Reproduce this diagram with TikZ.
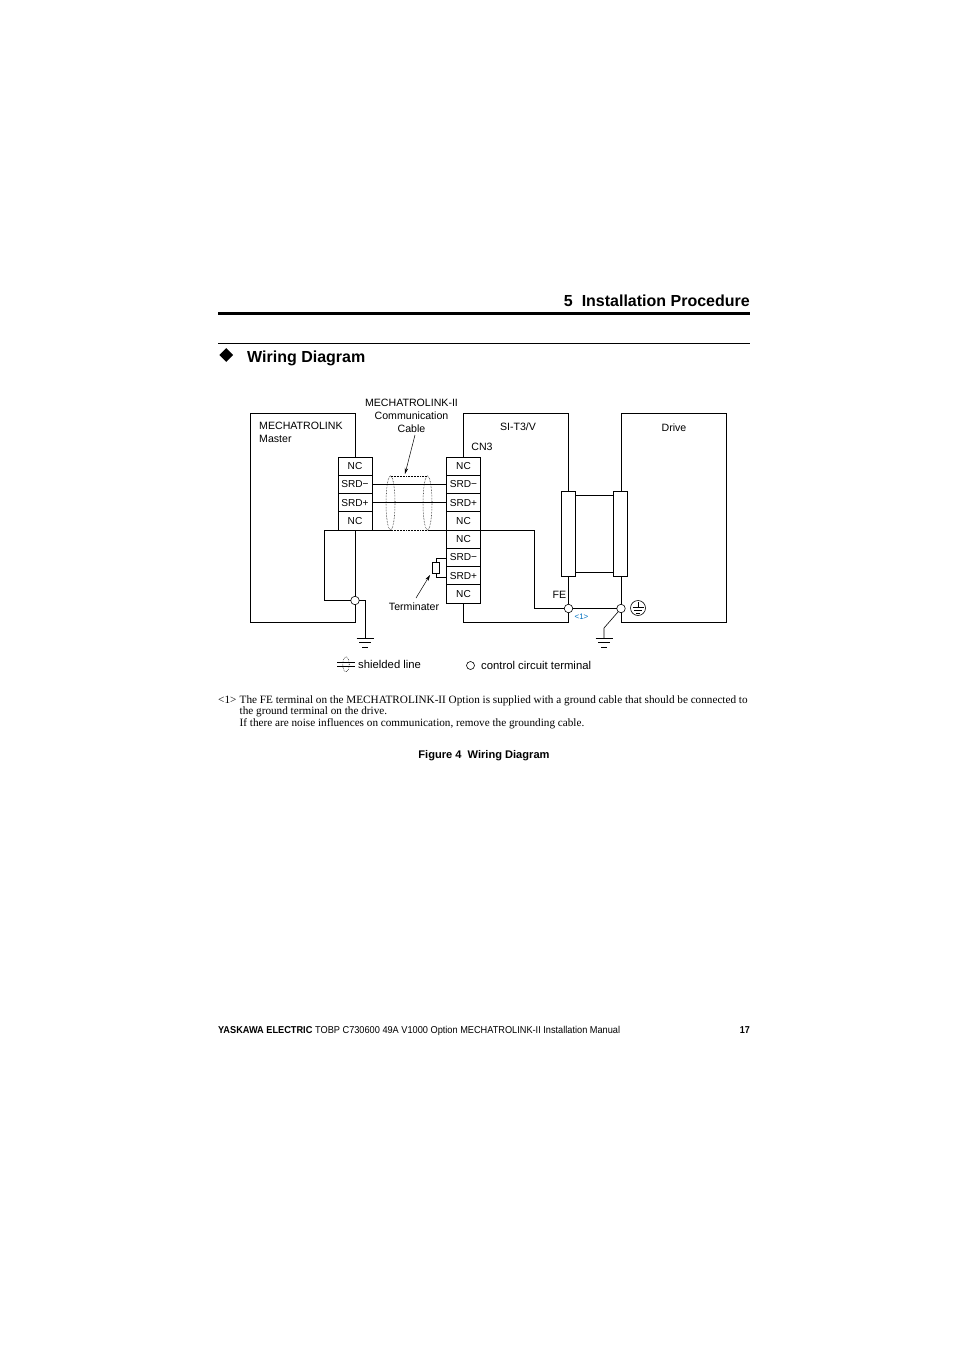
\documentclass[tikz,border=0pt]{standalone}
\usepackage{fontspec}
\setmainfont{Liberation Sans}
\newfontfamily\serifnote{Liberation Serif}
\usetikzlibrary{positioning, arrows.meta, shapes.geometric}
\definecolor{noteblue}{RGB}{0,112,192}
\newcommand{\gndbars}[1]{
    \draw[wire] (#1) ++(-8.5,0) -- ++(17,0);
    \draw[wire] (#1) ++(-6,4.5) -- ++(12,0);
    \draw[wire] (#1) ++(-3,9) -- ++(6,0);
}
\tikzset{
    wire/.style={line width=0.75pt},
    term/.style={draw, line width=0.75pt, minimum width=34pt, minimum height=18.25pt, inner sep=0pt, outer sep=0pt, fill=white, font=\fontsize{10.1}{11}\selectfont},
    joint/.style={draw, circle, line width=0.6pt, minimum size=8.5pt, inner sep=0pt, outer sep=0pt, fill=white},
    plug/.style={draw, line width=0.75pt, minimum width=13.5pt, minimum height=85pt, inner sep=0pt, outer sep=0pt, fill=white},
    label/.style={inner sep=0pt, font=\fontsize{10.6}{13}\selectfont},
    legend/.style={inner sep=0pt, font=\fontsize{11.3}{13}\selectfont},
    shield/.style={densely dotted, line width=0.55pt},
    head/.style={inner sep=0pt, font=\bfseries\fontsize{16}{18}\selectfont},
    note/.style={inner sep=0pt, anchor=base west, font=\serifnote\fontsize{11.2}{12}\selectfont},
    foot/.style={inner sep=0pt, anchor=base west},
    pointer/.style={-{Stealth[length=6pt,width=3.5pt]}, line width=0.5pt}
}
\begin{document}
\begin{tikzpicture}[x=1pt,y=-1pt,node distance=0pt]
    \useasboundingbox (0,0) rectangle (954,1351);
    \fill[white] (0,0) rectangle (954,1351);

    % page heading
    \node[head, anchor=base east] (title) at (750,306) {5\hspace{9pt}Installation Procedure};
    \coordinate (ruleA) at (218,313);
    \coordinate (ruleB) at (750,313);
    \draw[line width=3pt] (ruleA) -- (ruleB);
    \coordinate (ruleC) at (218,343.5);
    \coordinate (ruleD) at (750,343.5);
    \draw[line width=0.8pt] (ruleC) -- (ruleD);
    \node[diamond, fill=black, inner sep=0pt, minimum size=14pt] (bullet) at (226.3,355) {};
    \node[head, anchor=base west] (section) at (247,362) {Wiring Diagram};

    % coordinates of the housings
    \coordinate (mTL) at (250,413);
    \coordinate (mTR) at (355,413);
    \coordinate (mBL) at (250,622);
    \coordinate (mBR) at (355,622);
    \coordinate (sTL) at (463,413);
    \coordinate (sTR) at (568.5,413);
    \coordinate (sBL) at (463,622);
    \coordinate (sBR) at (568.5,622);
    \coordinate (dTL) at (621,413);
    \coordinate (dTR) at (726,413);
    \coordinate (dBL) at (621,622);
    \coordinate (dBR) at (726,622);

    % terminals, master
    \node[term, anchor=north] (mNCa) at (355,457) {NC};
    \node[term, below=of mNCa] (mSRDn) {SRD−};
    \node[term, below=of mSRDn] (mSRDp) {SRD+};
    \node[term, below=of mSRDp] (mNCb) {NC};
    % terminals, option
    \node[term, anchor=north] (sNCa) at (463.5,457) {NC};
    \node[term, below=of sNCa] (sSRDn) {SRD−};
    \node[term, below=of sSRDn] (sSRDp) {SRD+};
    \node[term, below=of sSRDp] (sNCb) {NC};
    \node[term, below=of sNCb] (sNCc) {NC};
    \node[term, below=of sNCc] (sSRDnb) {SRD−};
    \node[term, below=of sSRDnb] (sSRDpb) {SRD+};
    \node[term, below=of sSRDpb] (sNCd) {NC};

    % plugs and joints
    \node[plug] (plugS) at (568.5,533.5) {};
    \node[plug] (plugD) at (620.5,533.5) {};
    \node[joint] (jM) at (355,600.5) {};
    \node[joint] (jFE) at (568.5,608.5) {};
    \node[joint] (jPE) at (621,608.5) {};

    % housings
    \draw[wire] (mNCa.north -| mTR) -- (mTR) -- (mTL) -- (mBL) -- (mBR) -- (jM);
    \draw[wire] (sNCa.north -| sTL) -- (sTL) -- (sTR) -- (plugS.north);
    \draw[wire] (plugS.south) -- (jFE);
    \draw[wire] (jFE) -- (sBR) -- (sBL) -- (sNCd.south -| sBL);
    \draw[wire] (plugD.north -| dTL) -- (dTL) -- (dTR) -- (dBR) -- (dBL) -- (jPE);
    \draw[wire] (jPE) -- (plugD.south -| dTL);
    \coordinate (linkA) at (595,495);
    \coordinate (linkB) at (595,572);
    \draw[wire] (plugS.east |- linkA) -- (plugD.west |- linkA);
    \draw[wire] (plugS.east |- linkB) -- (plugD.west |- linkB);

    % signal lines
    \draw[wire] (mSRDn) -- (sSRDn);
    \draw[wire] (mSRDp) -- (sSRDp);

    % shield line with its loop
    \coordinate (loopTL) at (324.5,530);
    \coordinate (loopBL) at (324.5,600.5);
    \coordinate (shA) at (390.5,530);
    \coordinate (shB) at (427.5,530);
    \coordinate (shC) at (390.5,476);
    \coordinate (shD) at (427.5,476);
    \coordinate (feTR) at (534,530);
    \coordinate (feBR) at (534,608.5);
    \draw[wire] (jM) -- (mNCb.south -| jM);
    \draw[wire] (jM) -- (loopBL) -- (loopTL) -- (shA);
    \draw[wire] (shB) -- (feTR) -- (feBR) -- (jFE);
    \draw[shield] (shA) -- (shB);
    \draw[shield] (shC) -- (shD);
    \draw[shield] (shA) arc[start angle=90, delta angle=360, x radius=4.5pt, y radius=-27pt];
    \draw[shield] (shB) arc[start angle=90, delta angle=360, x radius=4.5pt, y radius=-27pt];
    \draw[wire] (jFE) -- (jPE);

    % terminater
    \node[draw, line width=0.75pt, minimum width=7pt, minimum height=11pt, inner sep=0pt, outer sep=0pt] (resistor) at (436,567.5) {};
    \draw[wire] (sSRDnb.west |- 0,558) -| (resistor.north);
    \draw[wire] (sSRDpb.west |- 0,577) -| (resistor.south);

    % grounds
    \coordinate (gndM) at (365,638);
    \draw[wire] (jM) -| (gndM);
    \gndbars{gndM}
    \coordinate (gndPa) at (604,628);
    \coordinate (gndP) at (604,638);
    \draw[line width=0.6pt] (jPE) -- (gndPa) -- (gndP);
    \gndbars{gndP}
    \node[draw, circle, line width=0.6pt, minimum size=15pt, inner sep=0pt] (pe) at (638,608) {};
    \coordinate (peA) at (638,602);
    \coordinate (peB) at (638,607);
    \draw[line width=0.6pt] (peA) -- (peB);
    \draw[line width=0.6pt] (632.5,607) -- (643.5,607);
    \draw[line width=0.6pt] (634,610) -- (642,610);
    \draw[line width=0.6pt] (636,613) -- (640,613);

    % labels
    \node[label, align=left, anchor=north west] (mLabel) at (259,422) {MECHATROLINK\\Master};
    \node[label, align=center] (cableLabel) at (411.5,415.5) {MECHATROLINK-II\\Communication\\Cable};
    \node[label, anchor=base] (sLabel) at (518,430) {SI-T3/V};
    \node[label, anchor=base] (cnLabel) at (482,450) {CN3};
    \node[label, anchor=base] (dLabel) at (674,431) {Drive};
    \node[label, anchor=base] (feLabel) at (559.5,598) {FE};
    \node[label, anchor=base, text=noteblue, font=\fontsize{8}{9}\selectfont] (noteMark) at (581.5,619) {<1>};
    \node[label, anchor=base] (termLabel) at (414,610) {Terminater};
    \coordinate (cableTail) at (415,435);
    \coordinate (cableTip) at (405,474);
    \coordinate (termTail) at (416,598);
    \coordinate (termTip) at (430,575);
    \draw[pointer] (cableTail) -- (cableTip);
    \draw[pointer] (termTail) -- (termTip);

    % legend
    \coordinate (lgA) at (337,662);
    \coordinate (lgB) at (355,662);
    \coordinate (lgC) at (337,666.5);
    \coordinate (lgD) at (355,666.5);
    \draw[line width=0.6pt] (lgA) -- (lgB);
    \draw[line width=0.6pt] (lgC) -- (lgD);
    \node[draw, ellipse, shield, minimum width=6.5pt, minimum height=15pt, inner sep=0pt] (lgShield) at (346,664.3) {};
    \node[legend, anchor=base west] (lgText) at (358,668) {shielded line};
    \node[draw, circle, line width=0.6pt, minimum size=8pt, inner sep=0pt] (lgJoint) at (470.5,665.5) {};
    \node[legend, anchor=base west] (lgJointText) at (481,669) {control circuit terminal};

    % footnote and caption
    \node[note] (noteNo) at (218,703) {<1>};
    \node[note] (noteA) at (239.5,703) {The FE terminal on the MECHATROLINK-II Option is supplied with a ground cable that should be connected to};
    \node[note] (noteB) at (239.5,714.5) {the ground terminal on the drive.};
    \node[note] (noteC) at (239.5,726) {If there are noise influences on communication, remove the grounding cable.};
    \node[inner sep=0pt, anchor=base, font=\bfseries\fontsize{11.1}{12}\selectfont] (caption) at (484,758) {Figure 4\hspace{6pt}Wiring Diagram};

    % page footer
    \node[foot, font=\bfseries\fontsize{10}{12}\selectfont, xscale=0.92] (footA) at (218,1033) {YASKAWA ELECTRIC};
    \node[foot, font=\fontsize{10}{12}\selectfont, xscale=0.92] (footB) at (315,1033) {TOBP C730600 49A V1000 Option MECHATROLINK-II Installation Manual};
    \node[inner sep=0pt, anchor=base east, font=\bfseries\fontsize{10}{12}\selectfont, xscale=0.9] (pageNo) at (750,1033) {17};
\end{tikzpicture}
\end{document}
